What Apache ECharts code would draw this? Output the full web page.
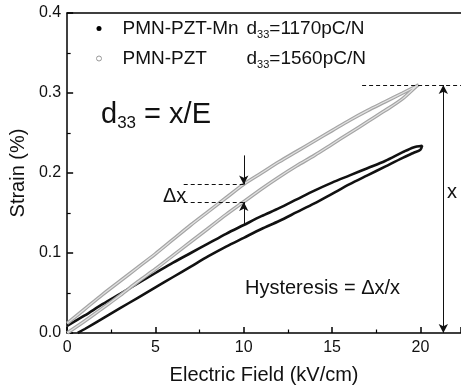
<!DOCTYPE html>
<html>
<head>
<meta charset="utf-8">
<script src="https://cdn.jsdelivr.net/npm/echarts@6/dist/echarts.min.js"></script>
<style>
  html, body { margin: 0; padding: 0; background: #fff; }
  #main { width: 461px; height: 390px; }
</style>
</head>
<body>
<div id="main"></div>
<script>
// PMN-PZT loop: rising branch then falling branch
var pztRiseE = [0, 1, 2, 3, 4, 5, 6, 7, 8, 9, 10, 11, 12, 13, 14, 15, 16, 17, 18, 19, 19.8];
var pztRiseS = [0.000, 0.015, 0.031, 0.047, 0.064, 0.080, 0.097, 0.114, 0.131, 0.148, 0.164,
                0.180, 0.195, 0.209, 0.222, 0.236, 0.250, 0.264, 0.278, 0.293, 0.309];
var pztFallE = [19.9, 19, 18, 17, 16, 15, 14, 13, 12, 11, 10, 9, 8, 7, 6, 5, 4, 3, 2, 1, 0];
var pztFallS = [0.310, 0.300, 0.289, 0.278, 0.266, 0.253, 0.240, 0.227, 0.214, 0.200, 0.186,
                0.169, 0.152, 0.135, 0.117, 0.099, 0.082, 0.065, 0.048, 0.030, 0.012];

// PMN-PZT-Mn loop
var mnRiseE = [0.6, 1, 2, 3, 4, 5, 6, 7, 8, 9, 10, 11, 12, 13, 14, 15, 16, 17, 18, 19, 19.6, 20];
var mnRiseS = [0.000, 0.005, 0.018, 0.031, 0.044, 0.057, 0.070, 0.083, 0.096, 0.108, 0.119,
               0.130, 0.140, 0.151, 0.162, 0.174, 0.186, 0.197, 0.208, 0.219, 0.225, 0.229];
var mnFallE = [20.1, 19.6, 19, 18, 17, 16, 15, 14, 13, 12, 11, 10, 9, 8, 7, 6, 5, 4, 3, 2, 1, 0];
var mnFallS = [0.234, 0.232, 0.226, 0.215, 0.206, 0.197, 0.188, 0.178, 0.167, 0.156, 0.146,
               0.135, 0.124, 0.112, 0.100, 0.088, 0.075, 0.062, 0.049, 0.036, 0.022, 0.009];

var seriesNames = ['PMN-PZT-Mn', 'PMN-PZT'];
var d33Values = ['1170', '1560'];
var xTicks = [0, 5, 10, 15, 20];

function loop(riseE, riseS, fallE, fallS) {
  var pts = [];
  riseE.forEach(function (e, i) { pts.push([e, riseS[i]]); });
  fallE.forEach(function (e, i) { pts.push([e, fallS[i]]); });
  return pts;
}
var mnData = loop(mnRiseE, mnRiseS, mnFallE, mnFallS);
var pztData = loop(pztRiseE, pztRiseS, pztFallE, pztFallS);

var font = 'Liberation Sans, Arial, sans-serif';
var chart = echarts.init(document.getElementById('main'));

chart.setOption({
  animation: false,
  backgroundColor: '#fff',
  textStyle: { fontFamily: font, color: '#111' },
  grid: { left: 66.5, top: 13, right: 0, bottom: 53 },
  legend: {
    left: 91, top: 14, orient: 'vertical', itemGap: 9,
    itemWidth: 5, itemHeight: 5,
    selectedMode: false,
    data: [
      { name: seriesNames[0], icon: 'circle', itemStyle: { color: '#000' } },
      { name: seriesNames[1], icon: 'circle', itemStyle: { color: '#fff', borderColor: '#999', borderWidth: 1 } }
    ],
    formatter: function (name) {
      var i = seriesNames.indexOf(name);
      return '{n|' + name + '}{d|d}{s|33}{d|=' + d33Values[i] + 'pC/N}';
    },
    textStyle: {
      fontFamily: font, fontSize: 19, color: '#111',
      rich: {
        n: { fontFamily: font, fontSize: 19, color: '#111', width: 124, padding: [0, 0, 0, 16] },
        d: { fontFamily: font, fontSize: 19, color: '#111' },
        s: { fontFamily: font, fontSize: 11, color: '#111', padding: [12, 0, 0, 0] }
      }
    }
  },
  xAxis: [{
    type: 'value', min: 0, max: 22.3, interval: 5,
    name: 'Electric Field (kV/cm)', nameLocation: 'middle', nameGap: 32,
    nameTextStyle: { fontFamily: font, fontSize: 20, color: '#111' },
    axisLine: { lineStyle: { color: '#000', width: 1.5 } },
    axisTick: { inside: true, length: 6, lineStyle: { color: '#000', width: 1.5 } },
    minorTick: { show: true, splitNumber: 2, length: 3.5, lineStyle: { color: '#000', width: 1.2 } },
    axisLabel: {
      margin: 7, fontSize: 16, color: '#111', showMaxLabel: false,
      formatter: function (v) { return xTicks.indexOf(v) >= 0 ? String(v) : ''; }
    },
    splitLine: { show: false }
  }, {
    type: 'value', min: 0, max: 22.3, position: 'top',
    axisLine: { show: true, onZero: false, lineStyle: { color: '#000', width: 1.5 } },
    axisTick: { show: false }, axisLabel: { show: false }, splitLine: { show: false }
  }],
  yAxis: {
    type: 'value', min: 0, max: 0.4, interval: 0.1,
    name: 'Strain (%)', nameLocation: 'middle', nameGap: 34, nameRotate: 90,
    nameTextStyle: { fontFamily: font, fontSize: 20, color: '#111' },
    axisLine: { show: true, lineStyle: { color: '#000', width: 1.5 } },
    axisTick: { inside: true, length: 6, lineStyle: { color: '#000', width: 1.5 } },
    minorTick: { show: true, splitNumber: 2, length: 3.5, lineStyle: { color: '#000', width: 1.2 } },
    axisLabel: { margin: 6, fontSize: 16, color: '#111', formatter: function (v) { return v.toFixed(1); } },
    splitLine: { show: false }
  },
  graphic: [
    {
      type: 'text', left: 101, top: 100,
      style: {
        text: '{d|d}{s|33}{d| = x/E}',
        fontFamily: font, fill: '#111',
        rich: {
          d: { fontFamily: font, fontSize: 29, fill: '#111' },
          s: { fontFamily: font, fontSize: 17, fill: '#111', padding: [18, 0, 0, 0] }
        }
      }
    },
    {
      type: 'text', left: 245, top: 278,
      style: { text: 'Hysteresis = \u0394x/x', fontFamily: font, fontSize: 20, fill: '#111' }
    },
    {
      type: 'text', left: 163, top: 186,
      style: { text: '\u0394x', fontFamily: font, fontSize: 20, fill: '#111' }
    },
    {
      type: 'text', left: 447, top: 182,
      style: { text: 'x', fontFamily: font, fontSize: 20, fill: '#111' }
    }
  ],
  series: [
    {
      name: seriesNames[0], type: 'line', data: mnData,
      showSymbol: false, symbol: 'none', smooth: 0.3,
      lineStyle: { color: '#111', width: 2.6 },
      itemStyle: { color: '#000' },
      markLine: {
        silent: true, symbol: 'none', animation: false,
        label: { show: false },
        lineStyle: { color: '#111', width: 1, type: 'solid' },
        symbolSize: [7, 9],
        data: [
          [{ coord: [10, 0.222], symbol: 'none' }, { coord: [10, 0.1856], symbol: 'arrow' }],
          [{ coord: [10, 0.136], symbol: 'none' }, { coord: [10, 0.1638], symbol: 'arrow' }],
          [{ coord: [21.3, 0.31], symbol: 'arrow' }, { coord: [21.3, 0.0], symbol: 'arrow' }],
          [{ coord: [6.6, 0.1856], lineStyle: { type: [4, 3] } }, { coord: [10, 0.1856] }],
          [{ coord: [6.6, 0.1638], lineStyle: { type: [4, 3] } }, { coord: [10, 0.1638] }],
          [{ coord: [16.7, 0.31], lineStyle: { type: [4, 3] } }, { coord: [22.3, 0.31] }]
        ]
      }
    },
    {
      name: seriesNames[1], type: 'line', data: pztData,
      showSymbol: false, symbol: 'none', smooth: 0.3,
      lineStyle: { color: '#a5a5a5', width: 3.6 },
      itemStyle: { color: '#aaa' }
    },
    {
      name: 'pzt-core', type: 'line', data: pztData,
      showSymbol: false, symbol: 'none', smooth: 0.3,
      lineStyle: { color: '#e2e2e2', width: 1.2 }
    }
  ]
});
</script>
</body>
</html>
